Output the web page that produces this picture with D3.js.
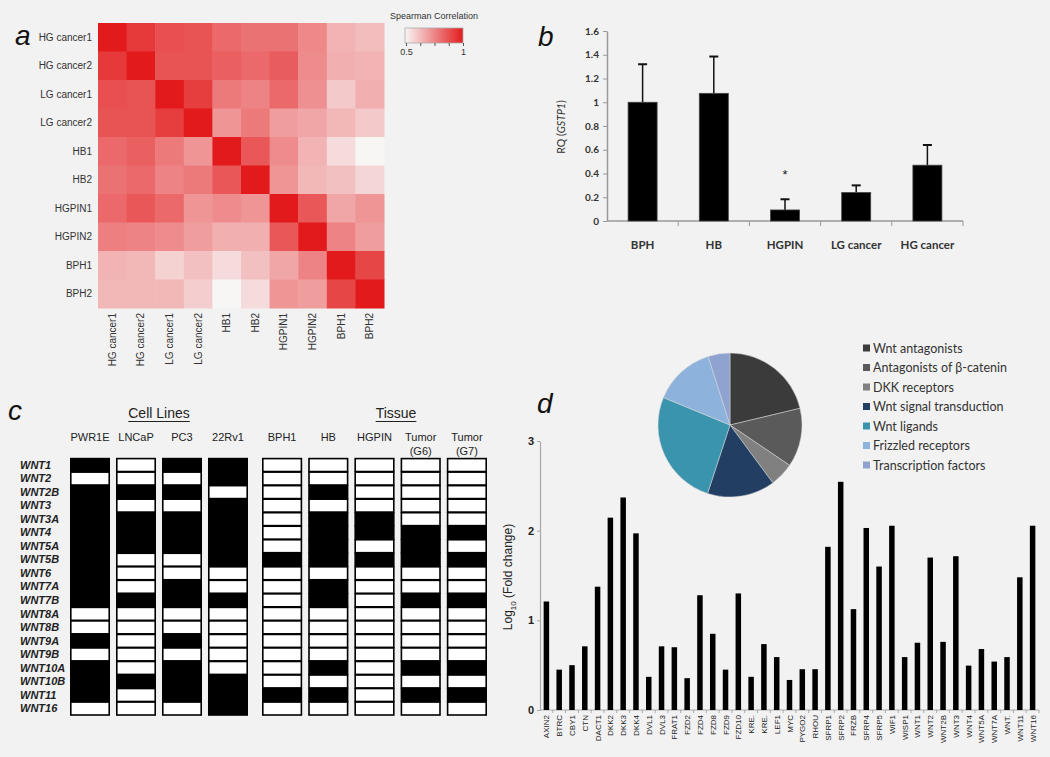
<!DOCTYPE html>
<html><head><meta charset="utf-8">
<script src="https://cdn.jsdelivr.net/npm/d3@7"></script>
<style>
html,body{margin:0;padding:0;background:#f2f2f2;}
svg{display:block;font-family:Arial,"Liberation Sans",sans-serif;}
</style></head>
<body><svg id="c" width="1050" height="757"></svg>
<script>
// ---------- Panel a data ----------
const samples = ["HG cancer1","HG cancer2","LG cancer1","LG cancer2","HB1","HB2","HGPIN1","HGPIN2","BPH1","BPH2"];
const corr = [
 [1.00,0.93,0.88,0.87,0.82,0.80,0.80,0.75,0.65,0.63],
 [0.93,1.00,0.87,0.87,0.84,0.82,0.85,0.74,0.66,0.65],
 [0.88,0.87,1.00,0.92,0.78,0.76,0.82,0.73,0.60,0.66],
 [0.87,0.87,0.92,1.00,0.72,0.78,0.70,0.68,0.64,0.60],
 [0.82,0.84,0.78,0.72,1.00,0.86,0.74,0.65,0.56,0.50],
 [0.80,0.82,0.76,0.78,0.86,1.00,0.72,0.64,0.62,0.57],
 [0.82,0.86,0.82,0.72,0.74,0.72,1.00,0.86,0.68,0.72],
 [0.77,0.76,0.74,0.70,0.66,0.66,0.86,1.00,0.76,0.70],
 [0.65,0.64,0.58,0.62,0.56,0.62,0.68,0.76,1.00,0.90],
 [0.64,0.64,0.64,0.59,0.50,0.56,0.72,0.70,0.90,1.00]
];
const corrTicks = [0.5,0.625,0.75,0.875,1];

// ---------- Panel b data ----------
const bCats = ["BPH","HB","HGPIN","LG cancer","HG cancer"];
const bVals = [1.00,1.075,0.093,0.24,0.47];
const bErrs = [0.32,0.31,0.09,0.06,0.17];
const bTicks = [0,0.2,0.4,0.6,0.8,1,1.2,1.4,1.6];

// ---------- Panel c data ----------
const wntGenes = ["WNT1","WNT2","WNT2B","WNT3","WNT3A","WNT4","WNT5A","WNT5B","WNT6","WNT7A","WNT7B","WNT8A","WNT8B","WNT9A","WNT9B","WNT10A","WNT10B","WNT11","WNT16"];
const cellLines = ["PWR1E","LNCaP","PC3","22Rv1"];
const tissues = ["BPH1","HB","HGPIN","Tumor (G6)","Tumor (G7)"];
const PWR1E = [1,0,1,1,1,1,1,1,1,1,1,0,0,1,0,1,1,1,0];
const LNCaP = [0,0,1,0,1,1,1,0,0,0,1,0,0,0,0,0,1,0,0];
const PC3   = [1,0,1,0,1,1,1,0,0,1,1,0,0,1,0,1,1,1,0];
const Rv1   = [1,1,0,1,1,1,1,1,0,0,1,0,0,0,0,0,1,1,1];
const tBPH1 = [0,0,0,0,0,0,0,1,0,0,0,0,0,0,0,0,0,1,0];
const tHB   = [0,0,1,0,1,1,1,1,0,1,1,0,0,0,0,1,0,1,0];
const tHGPIN= [0,0,0,0,1,1,0,1,0,0,0,0,0,0,0,0,0,0,0];
const tG6   = [0,0,0,0,0,1,1,1,0,0,1,0,0,0,0,1,0,1,0];
const tG7   = [0,0,0,0,0,1,0,1,0,0,1,0,0,0,0,1,0,1,0];

// ---------- Panel d data ----------
const dGenes = ["AXIN2","BTRC","CBY1","CTN","DACT1","DKK2","DKK3","DKK4","DVL1","DVL3","FRAT1","FZD2","FZD4","FZD8","FZD9","FZD10","KRE.","KRE.","LEF1","MYC","PYGO2","RHOU","SFRP1","SFRP2","FRZB","SFRP4","SFRP5","WIF1","WISP1","WNT1","WNT2","WNT2B","WNT3","WNT4","WNT5A","WNT7A","WNT.","WNT11","WNT16"];
const dVals = [1.21,0.45,0.50,0.71,1.375,2.145,2.37,1.97,0.37,0.71,0.70,0.355,1.28,0.85,0.45,1.30,0.37,0.735,0.59,0.335,0.455,0.455,1.82,2.545,1.125,2.03,1.60,2.055,0.59,0.75,1.70,0.76,1.715,0.495,0.68,0.54,0.59,1.48,2.055];
const dTicks = [0,1,2,3];
const pieCats = ["Wnt antagonists","Antagonists of β-catenin","DKK receptors","Wnt signal transduction","Wnt ligands","Frizzled receptors","Transcription factors"];
const pieVals = [21.3,13.2,5.4,15.2,26.2,13.9,4.9];
const pieColors = ["#3b3b3b","#5a5a5a","#808080","#223f63","#3a94ad","#8db3dc","#8ea3d0"];

const svg = d3.select("#c");
svg.append("rect").attr("width",1050).attr("height",757).attr("fill","#f2f2f2");

// panel letters
[["a",15,45],["b",538,46],["c",8,420],["d",537,413]].forEach(([t,x,y])=>{
  svg.append("text").attr("x",x).attr("y",y).text(t)
    .attr("font-size",28).attr("font-style","italic").attr("fill","#111");
});

// ================= Panel a =================
(function(){
  const g = svg.append("g");
  const x = d3.scaleBand().domain(samples).range([98,384]);
  const y = d3.scaleBand().domain(samples).range([23,308]);
  const col = d3.scaleLinear().domain([0.5,1]).range(["#f8f5f5","#e31a1c"]).interpolate(d3.interpolateRgb).clamp(true);
  const cells = [];
  corr.forEach((row,i)=>row.forEach((v,j)=>cells.push({r:samples[i],c:samples[j],v})));
  g.selectAll("rect.cell").data(cells).join("rect")
    .attr("x",d=>x(d.c)).attr("y",d=>y(d.r))
    .attr("width",x.bandwidth()+0.5).attr("height",y.bandwidth()+0.5)
    .attr("fill",d=>col(d.v));
  g.selectAll("text.rl").data(samples).join("text")
    .attr("x",92).attr("y",d=>y(d)+y.bandwidth()/2).attr("dy","0.35em")
    .attr("text-anchor","end").attr("font-size",10).attr("fill","#333").text(d=>d);
  g.selectAll("text.cl").data(samples).join("text")
    .attr("transform",d=>`translate(${x(d)+x.bandwidth()/2+3.5},313) rotate(-90)`)
    .attr("text-anchor","end").attr("font-size",10).attr("fill","#333").text(d=>d);
  // legend
  g.append("text").attr("x",390).attr("y",19).attr("font-size",9).attr("fill","#333").text("Spearman Correlation");
  const defs = svg.append("defs");
  const lg = defs.append("linearGradient").attr("id","sg");
  lg.append("stop").attr("offset","0%").attr("stop-color",col(0.5));
  lg.append("stop").attr("offset","100%").attr("stop-color",col(1));
  const lx = d3.scaleLinear().domain([0.5,1]).range([406,463]);
  g.append("rect").attr("x",405).attr("y",28).attr("width",58).attr("height",15)
    .attr("fill","url(#sg)").attr("stroke","#aaa").attr("stroke-width",0.8);
  const ax = g.append("g").attr("transform","translate(0,43)")
    .call(d3.axisBottom(lx).tickValues(corrTicks).tickSize(3).tickFormat(d=>d===0.5?"0.5":(d===1?"1":"")));
  ax.select(".domain").remove();
  ax.selectAll("line").attr("stroke","#555");
  ax.selectAll("text").attr("font-size",9).attr("fill","#333").attr("font-family","Arial,Liberation Sans");
})();

// ================= Panel b =================
(function(){
  const g = svg.append("g");
  const x = d3.scaleBand().domain(bCats).range([607,963]);
  const y = d3.scaleLinear().domain([0,1.6]).range([221,31]);
  const bw = 29;
  const ya = g.append("g").attr("transform","translate(607,0)")
    .call(d3.axisLeft(y).tickValues(bTicks).tickSize(4).tickSizeOuter(0).tickFormat(d=>d3.format("~g")(d)));
  ya.select(".domain").attr("stroke","#999").attr("stroke-width",1.5);
  ya.selectAll("line").attr("stroke","#999");
  ya.selectAll("text").attr("font-size",10).attr("font-weight","bold").attr("fill","#333").attr("font-family","Lato,Carlito,sans-serif").attr("x",-8);
  // x axis
  g.append("line").attr("x1",607).attr("x2",963).attr("y1",221).attr("y2",221).attr("stroke","#999").attr("stroke-width",1.5);
  g.selectAll("line.xt").data(bCats).join("line")
    .attr("x1",d=>x(d)+x.bandwidth()).attr("x2",d=>x(d)+x.bandwidth())
    .attr("y1",221).attr("y2",226).attr("stroke","#999");
  const data = bCats.map((c,i)=>({c,v:bVals[i],e:bErrs[i]}));
  // error bars
  g.selectAll("line.eb").data(data).join("line")
    .attr("x1",d=>x(d.c)+x.bandwidth()/2).attr("x2",d=>x(d.c)+x.bandwidth()/2)
    .attr("y1",d=>y(d.v)).attr("y2",d=>y(d.v+d.e)).attr("stroke","#111").attr("stroke-width",1.5);
  g.selectAll("line.cap").data(data).join("line")
    .attr("x1",d=>x(d.c)+x.bandwidth()/2-4.5).attr("x2",d=>x(d.c)+x.bandwidth()/2+4.5)
    .attr("y1",d=>y(d.v+d.e)).attr("y2",d=>y(d.v+d.e)).attr("stroke","#111").attr("stroke-width",2);
  g.selectAll("rect.bar").data(data).join("rect")
    .attr("x",d=>x(d.c)+x.bandwidth()/2-bw/2).attr("width",bw)
    .attr("y",d=>y(d.v)).attr("height",d=>y(0)-y(d.v)).attr("fill","#000").attr("stroke","#444").attr("stroke-width",0.8);
  g.selectAll("text.xl").data(bCats).join("text")
    .attr("x",d=>x(d)+x.bandwidth()/2).attr("y",249).attr("text-anchor","middle")
    .attr("font-size",11.5).attr("font-weight","bold").attr("fill","#333").attr("font-family","Lato,Carlito,sans-serif").text(d=>d);
  g.append("text").attr("x",x("HGPIN")+x.bandwidth()/2).attr("y",y(0.355)).attr("text-anchor","middle")
    .attr("font-size",13).attr("fill","#222").text("*");
  const t = g.append("text").attr("transform","translate(565,127) rotate(-90)").attr("text-anchor","middle")
    .attr("font-size",10.5).attr("fill","#333").attr("font-family","Lato,Carlito,sans-serif");
  t.append("tspan").text("RQ (");
  t.append("tspan").attr("font-style","italic").text("GSTP1");
  t.append("tspan").text(")");
})();

// ================= Panel c =================
(function(){
  const g = svg.append("g");
  const y = d3.scaleBand().domain(wntGenes).range([458,715]);
  const xc = d3.scaleBand().domain(cellLines).range([70,248]).paddingInner(0.13);
  const xt = d3.scaleBand().domain(tissues).range([262,487]).paddingInner(0.13);
  const cols = [
    {n:"PWR1E",x:xc,d:PWR1E},{n:"LNCaP",x:xc,d:LNCaP},{n:"PC3",x:xc,d:PC3},{n:"22Rv1",x:xc,d:Rv1},
    {n:"BPH1",x:xt,d:tBPH1},{n:"HB",x:xt,d:tHB},{n:"HGPIN",x:xt,d:tHGPIN},{n:"Tumor (G6)",x:xt,d:tG6},{n:"Tumor (G7)",x:xt,d:tG7}
  ];
  cols.forEach(c=>{
    const cg = g.append("g");
    cg.selectAll("rect").data(c.d.map((v,i)=>({v,gname:wntGenes[i]}))).join("rect")
      .attr("x",c.x(c.n)+0.8).attr("width",c.x.bandwidth()-1.6)
      .attr("y",d=>y(d.gname)+0.6).attr("height",y.bandwidth()-0.6)
      .attr("fill",d=>d.v?"#000":"#fff").attr("stroke","#000").attr("stroke-width",1.6);
    const cx = c.x(c.n)+c.x.bandwidth()/2;
    const parts = c.n.startsWith("Tumor") ? ["Tumor", c.n.slice(6)] : [c.n];
    parts.forEach((p,k)=>{
      cg.append("text").attr("x",cx).attr("y",441+k*14).attr("text-anchor","middle")
        .attr("font-size",11).attr("fill","#222").text(p);
    });
  });
  g.selectAll("text.gl").data(wntGenes).join("text")
    .attr("x",20).attr("y",d=>y(d)+y.bandwidth()/2).attr("dy","0.36em")
    .attr("font-size",11).attr("font-weight","bold").attr("font-style","italic").attr("fill","#222").text(d=>d);
  [["Cell Lines",159],["Tissue",396]].forEach(([t,cx])=>{
    const tx = g.append("text").attr("x",cx).attr("y",418).attr("text-anchor","middle")
      .attr("font-size",14).attr("fill","#222").text(t);
    const w = tx.node().getComputedTextLength();
    g.append("line").attr("x1",cx-w/2).attr("x2",cx+w/2).attr("y1",421.5).attr("y2",421.5).attr("stroke","#222").attr("stroke-width",1.2);
  });
})();

// ================= Panel d =================
(function(){
  const g = svg.append("g");
  const idx = dGenes.map((d,i)=>i);
  const x = d3.scaleBand().domain(idx).range([540,1039]);
  const y = d3.scaleLinear().domain([0,3]).range([710,441]);
  const ya = g.append("g").attr("transform","translate(540,0)")
    .call(d3.axisLeft(y).tickValues(dTicks).tickSize(3).tickSizeOuter(0).tickFormat(d3.format("d")));
  ya.select(".domain").attr("stroke","#aaa").attr("stroke-width",1.2);
  ya.selectAll("line").attr("stroke","#aaa");
  ya.selectAll("text").attr("font-size",11).attr("font-weight","bold").attr("fill","#222").attr("x",-6);
  g.append("line").attr("x1",540).attr("x2",1039).attr("y1",710).attr("y2",710).attr("stroke","#aaa").attr("stroke-width",1.2);
  g.selectAll("line.xt").data(idx).join("line")
    .attr("x1",d=>x(d)+x.bandwidth()).attr("x2",d=>x(d)+x.bandwidth())
    .attr("y1",710).attr("y2",713).attr("stroke","#aaa");
  const bw = 5.5;
  g.selectAll("rect.bar").data(idx).join("rect")
    .attr("x",d=>x(d)+x.bandwidth()/2-bw/2).attr("width",bw)
    .attr("y",d=>y(dVals[d])).attr("height",d=>y(0)-y(dVals[d])).attr("fill","#000");
  g.selectAll("text.xl").data(idx).join("text")
    .attr("transform",d=>`translate(${x(d)+x.bandwidth()/2+3},715) rotate(-90)`)
    .attr("text-anchor","end").attr("font-size",8).attr("fill","#222").text(d=>dGenes[d]);
  const t = g.append("text").attr("transform","translate(512,577) rotate(-90)").attr("text-anchor","middle")
    .attr("font-size",12).attr("fill","#222");
  t.append("tspan").text("Log");
  t.append("tspan").attr("font-size",8).attr("dy",4).text("10");
  t.append("tspan").attr("dy",-4).text(" (Fold change)");

  // pie
  const pg = g.append("g").attr("transform","translate(730,425)");
  const pie = d3.pie().sort(null).value(d=>d)(pieVals);
  const arc = d3.arc().innerRadius(0).outerRadius(72);
  pg.selectAll("path").data(pie).join("path").attr("d",arc)
    .attr("fill",(d,i)=>pieColors[i]).attr("stroke","#d8d8d8").attr("stroke-width",0.5);
  // legend
  const lg = g.append("g");
  pieCats.forEach((c,i)=>{
    const cy = 348+i*19.5;
    lg.append("rect").attr("x",863).attr("y",cy-3.5).attr("width",7).attr("height",7).attr("fill",pieColors[i]);
    lg.append("text").attr("x",873).attr("y",cy).attr("dy","0.36em").attr("font-size",12.5)
      .attr("font-family","Lato,Carlito,sans-serif").attr("fill","#333").text(c);
  });
})();
</script></body></html>
